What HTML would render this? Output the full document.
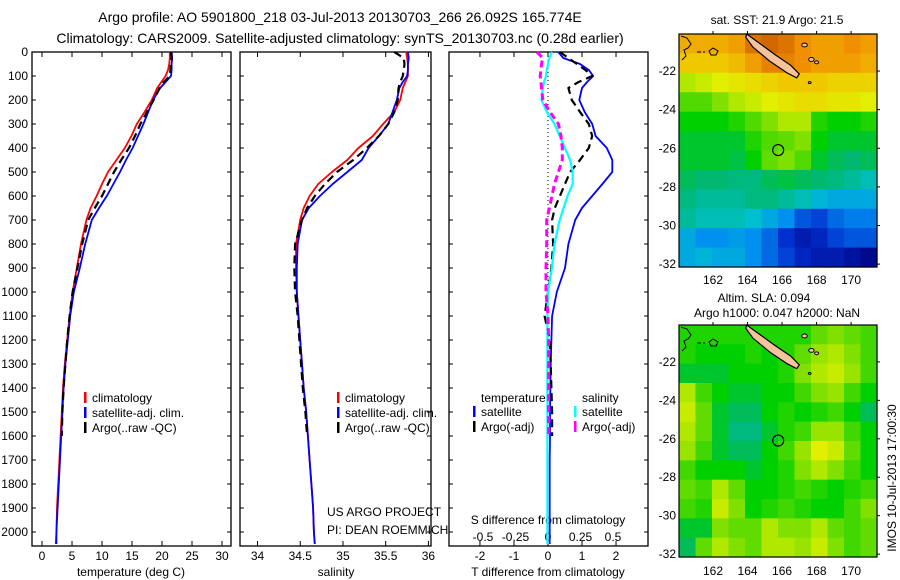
<!DOCTYPE html>
<html><head><meta charset="utf-8">
<style>
html,body{margin:0;padding:0;background:#fff;}
svg{display:block;font-family:"Liberation Sans",sans-serif;}
text{fill:#000;}
</style></head>
<body>
<svg id="fig" width="900" height="580" viewBox="0 0 900 580" xmlns="http://www.w3.org/2000/svg">
<text x="340" y="22" font-size="14" text-anchor="middle">Argo profile: AO 5901800_218 03-Jul-2013 20130703_266 26.092S 165.774E</text>
<text x="340" y="43" font-size="14" text-anchor="middle">Climatology: CARS2009. Satellite-adjusted climatology: synTS_20130703.nc (0.28d earlier)</text>
<text x="131" y="576" font-size="12" text-anchor="middle">temperature (deg C)</text>
<text x="336" y="576" font-size="12" text-anchor="middle">salinity</text>
<text x="548" y="576" font-size="12" text-anchor="middle">T difference from climatology</text>
<text x="548" y="524" font-size="12" text-anchor="middle">S difference from climatology</text>
<text x="327" y="516" font-size="12">US ARGO PROJECT</text>
<text x="327" y="534" font-size="12">PI: DEAN ROEMMICH</text>
<text x="777" y="24" font-size="12" text-anchor="middle">sat. SST: 21.9 Argo: 21.5</text>
<text x="764" y="302" font-size="12" text-anchor="middle">Altim. SLA: 0.094</text>
<text x="777" y="317" font-size="12" text-anchor="middle">Argo h1000: 0.047 h2000: NaN</text>
<text transform="translate(896,478) rotate(-90)" font-size="12" text-anchor="middle">IMOS 10-Jul-2013 17:00:30</text>
</svg>
<script>
// ---------- profile data ----------
const depths = [0,25,50,75,100,125,150,200,250,300,350,400,450,500,550,600,650,700,800,900,1000,1100,1200,1300,1400,1500,1600,1700,1800,1900,2000,2050];
const tempClim = [21.3,21.3,21.2,21.0,20.6,19.9,19.2,18.3,17.1,15.8,14.9,13.8,12.4,11.0,10.0,9.1,8.1,7.4,6.5,5.8,5.1,4.6,4.2,3.8,3.5,3.3,3.1,2.9,2.7,2.5,2.4,2.3];
const tempSat = [21.6,21.7,21.6,21.6,21.5,20.6,19.7,18.5,17.7,16.9,16.0,15.1,14.0,13.0,11.9,10.8,9.5,8.3,7.2,6.3,5.3,4.7,4.3,3.9,3.6,3.4,3.2,3.0,2.8,2.6,2.4,2.4];
const tempArgo = [21.5,21.6,21.5,21.4,21.3,20.3,19.6,18.6,17.5,16.4,15.5,14.5,13.2,12.0,11.0,10.0,8.8,7.7,6.7,5.9,5.1,4.6,4.2,3.9,3.6,3.4,3.3];
const salClim = [35.74,35.75,35.76,35.76,35.76,35.73,35.70,35.67,35.60,35.47,35.35,35.18,35.05,34.87,34.71,34.61,34.54,34.50,34.45,34.45,34.46,34.48,34.50,34.52,34.54,34.57,34.59,34.61,34.63,34.65,34.66,34.67];
const salSat = [35.76,35.77,35.76,35.76,35.75,35.70,35.66,35.63,35.58,35.53,35.42,35.30,35.22,35.05,34.88,34.73,34.60,34.52,34.47,34.46,34.46,34.48,34.50,34.52,34.54,34.57,34.59,34.61,34.63,34.65,34.66,34.67];
const salArgo = [35.60,35.71,35.72,35.71,35.70,35.67,35.65,35.64,35.60,35.53,35.42,35.28,35.12,34.93,34.79,34.67,34.58,34.52,34.44,34.43,34.44,34.47,34.49,34.51,34.53,34.56,34.58];
const tDiffSat = [0.3,0.45,0.94,1.2,1.33,1.15,1.0,0.92,1.08,1.3,1.4,1.73,1.89,1.89,1.6,1.3,1.0,0.8,0.6,0.5,0.26,0.12,0.1,0.08,0.07,0.06,0.06,0.05,0.05,0.05,0.05,0.05];
const tDiffArgo = [0.35,0.6,0.85,1.1,1.3,0.9,0.6,0.7,0.94,1.2,1.3,1.2,0.94,0.65,0.5,0.35,0.2,0.12,0.15,0.1,0.0,-0.1,0.05,0.08,0.1,0.12,0.12];
const sDiffSat = [0.03,0.01,0.0,-0.01,-0.015,-0.03,-0.04,-0.05,-0.01,0.05,0.09,0.13,0.17,0.19,0.19,0.15,0.12,0.09,0.05,0.03,0.0,-0.005,-0.005,-0.005,-0.005,-0.005,-0.005,-0.005,-0.005,-0.005,-0.005,-0.005];
const sDiffArgo = [-0.085,-0.04,-0.05,-0.055,-0.06,-0.055,-0.05,-0.04,0.015,0.08,0.1,0.11,0.11,0.08,0.05,0.03,0.01,-0.01,-0.01,-0.015,-0.015,0.0,0.005,0.005,0.005,0.005,0.005];
const tempTicks = [0,5,10,15,20,25,30];
const salTicks = [34,34.5,35,35.5,36];
const tDiffTicks = [-2,-1,0,1,2];
const sDiffTicks = [-0.5,-0.25,0,0.25,0.5];
const depthTicks = [0,100,200,300,400,500,600,700,800,900,1000,1100,1200,1300,1400,1500,1600,1700,1800,1900,2000];
// ---------- map data (normalized colour values, rows north->south, cols west->east) ----------
const sstGrid = [
[.78,.78,.78,.80,.86,.88,.86,.82,.80,.80,.82,.80],
[.74,.74,.74,.76,.80,.84,.84,.82,.80,.80,.80,.78],
[.62,.64,.66,.68,.70,.72,.74,.74,.74,.72,.72,.72],
[.55,.55,.58,.62,.64,.66,.68,.70,.70,.68,.68,.66],
[.50,.50,.50,.52,.55,.58,.62,.62,.52,.50,.50,.52],
[.48,.48,.48,.48,.52,.55,.56,.58,.50,.48,.48,.48],
[.48,.48,.48,.47,.50,.56,.58,.55,.48,.46,.45,.46],
[.46,.45,.45,.44,.44,.46,.47,.46,.45,.44,.42,.40],
[.44,.42,.42,.42,.44,.44,.42,.40,.36,.34,.34,.34],
[.42,.40,.40,.40,.38,.34,.30,.24,.22,.26,.28,.28],
[.34,.30,.30,.32,.30,.26,.20,.16,.18,.22,.24,.24],
[.34,.36,.34,.34,.30,.26,.22,.18,.16,.16,.14,.12]];
const slaGrid = [
[.52,.52,.52,.52,.52,.52,.52,.52,.56,.58,.56,.54],
[.52,.50,.50,.50,.52,.50,.52,.56,.60,.62,.58,.54],
[.48,.48,.48,.50,.50,.50,.52,.58,.62,.64,.60,.54],
[.62,.54,.50,.48,.48,.50,.50,.54,.58,.60,.54,.50],
[.64,.56,.48,.46,.46,.50,.52,.50,.52,.54,.50,.46],
[.62,.56,.48,.44,.44,.48,.52,.54,.60,.60,.54,.50],
[.60,.54,.48,.46,.46,.50,.54,.60,.66,.64,.56,.50],
[.54,.50,.50,.50,.48,.50,.52,.58,.62,.58,.54,.50],
[.56,.54,.62,.56,.50,.50,.52,.54,.52,.50,.52,.54],
[.54,.52,.64,.58,.50,.52,.54,.52,.50,.50,.54,.58],
[.48,.48,.58,.56,.56,.62,.58,.58,.62,.56,.54,.56],
[.46,.56,.62,.58,.56,.62,.62,.60,.64,.58,.54,.56]];
const lonTicks = [162,164,166,168,170];
const latTicks = [-22,-24,-26,-28,-30,-32];
const floatLon = 165.774, floatLat = -26.092;

const svg = document.getElementById('fig');
const NS = 'http://www.w3.org/2000/svg';
function mk(tag, attrs, parent){
  const e = document.createElementNS(NS, tag);
  for (const k in attrs) e.setAttribute(k, attrs[k]);
  (parent||svg).appendChild(e);
  return e;
}
const TOP = 52, BOT = 546;
const yD = d => TOP + d*0.24;
const panels = [
  {name:'temperature', x0:32, x1:231, xmin:-1.67, xmax:31.5},
  {name:'salinity', x0:240, x1:431, xmin:33.795, xmax:36.03},
  {name:'difference', x0:449, x1:648, xmin:-2.91, xmax:2.94}
];
function sx(p, v){ return p.x0 + (v - p.xmin)/(p.xmax - p.xmin)*(p.x1 - p.x0); }
const sScale = v => 548 + v*130;

function line(points, color, w, dash, name){
  const el = mk('polyline', {points: points.map(p=>p[0].toFixed(1)+','+p[1].toFixed(1)).join(' '), fill:'none', stroke:color, 'stroke-width':w, 'stroke-linejoin':'round'});
  if (dash) el.setAttribute('stroke-dasharray', dash);
  
  
  return el;
}

panels.forEach((p, i) => {
  const r = mk('rect', {x:p.x0, y:TOP, width:p.x1-p.x0, height:BOT-TOP, fill:'none', stroke:'#000', 'stroke-width':1.3});
  
  
  depthTicks.forEach(d => {
    const t1 = mk('line', {x1:p.x0, x2:p.x0+4, y1:yD(d), y2:yD(d), stroke:'#000'});
    
    
    const t2 = mk('line', {x1:p.x1-4, x2:p.x1, y1:yD(d), y2:yD(d), stroke:'#000'});
    
    
  });
});
depthTicks.forEach(d => {
  const t = mk('text', {x:28, y:yD(d)+4, 'font-size':12, 'text-anchor':'end'});
  t.textContent = d;
  
  
});
function xTicks(p, ticks, fmt){
  ticks.forEach(v => {
    const x = sx(p, v);
    const a = mk('line', {x1:x, x2:x, y1:TOP, y2:TOP+5, stroke:'#000'});
    
    
    const b = mk('line', {x1:x, x2:x, y1:BOT-5, y2:BOT, stroke:'#000'});
    
    
    const t = mk('text', {x:x, y:560, 'font-size':12, 'text-anchor':'middle'});
    t.textContent = fmt(v);
    
    
  });
}
xTicks(panels[0], tempTicks, v=>v);
xTicks(panels[1], salTicks, v=>v);
xTicks(panels[2], tDiffTicks, v=>v);
sDiffTicks.forEach(v => {
  const t = mk('text', {x:sScale(v), y:541, 'font-size':12, 'text-anchor':'middle'});
  t.textContent = v;
  
  
});

const z = mk('line', {x1:sx(panels[2],0), x2:sx(panels[2],0), y1:TOP, y2:BOT, stroke:'#000', 'stroke-dasharray':'1,3'});



const P = panels;
line(tempClim.map((v,i)=>[sx(P[0],v), yD(depths[i])]), '#ff0000', 1.8, null, 'temperature-climatology-line');
line(tempSat.map((v,i)=>[sx(P[0],v), yD(depths[i])]), '#0000ff', 1.8, null, 'temperature-satellite-line');
line(tempArgo.map((v,i)=>[sx(P[0],v), yD(depths[i])]), '#000', 2.2, '8,5', 'temperature-argo-line');
line(salClim.map((v,i)=>[sx(P[1],v), yD(depths[i])]), '#ff0000', 1.8, null, 'salinity-climatology-line');
line(salSat.map((v,i)=>[sx(P[1],v), yD(depths[i])]), '#0000ff', 1.8, null, 'salinity-satellite-line');
line(salArgo.map((v,i)=>[sx(P[1],v), yD(depths[i])]), '#000', 2.2, '8,5', 'salinity-argo-line');
line(tDiffSat.map((v,i)=>[sx(P[2],v), yD(depths[i])]), '#0000ff', 1.8, null, 't-diff-satellite-line');
line(tDiffArgo.map((v,i)=>[sx(P[2],v), yD(depths[i])]), '#000', 2.2, '8,5', 't-diff-argo-line');
line(sDiffSat.map((v,i)=>[sScale(v), yD(depths[i])]), '#00ffff', 2.2, null, 's-diff-satellite-line');
line(sDiffArgo.map((v,i)=>[sScale(v), yD(depths[i])]), '#ff00ff', 3, '7,4', 's-diff-argo-line');

function legend(x, y, color, label, name){
  const m = mk('rect', {x:x, y:y-10, width:2.5, height:11, fill:color});
  
  
  const t = mk('text', {x:x+8, y:y, 'font-size':12});
  t.textContent = label;
  
  
}
legend(84, 402, '#ff0000', 'climatology', 'legend-temp-climatology');
legend(84, 417, '#0000ff', 'satellite-adj. clim.', 'legend-temp-satellite');
legend(84, 432, '#000', 'Argo(..raw -QC)', 'legend-temp-argo');
legend(337, 402, '#ff0000', 'climatology', 'legend-sal-climatology');
legend(337, 417, '#0000ff', 'satellite-adj. clim.', 'legend-sal-satellite');
legend(337, 432, '#000', 'Argo(..raw -QC)', 'legend-sal-argo');
legend(473, 416, '#0000ff', 'satellite', 'legend-tdiff-satellite');
legend(473, 431, '#000', 'Argo(-adj)', 'legend-tdiff-argo');
legend(574, 416, '#00ffff', 'satellite', 'legend-sdiff-satellite');
legend(574, 431, '#ff00ff', 'Argo(-adj)', 'legend-sdiff-argo');
const lt = mk('text', {x:481, y:402, 'font-size':12}); lt.textContent = 'temperature';


const ls = mk('text', {x:582, y:402, 'font-size':12}); ls.textContent = 'salinity';



// ---------- maps ----------
const stops = [[0.1,[0,0,127]],[0.2,[0,48,208]],[0.3,[0,144,240]],[0.38,[0,192,208]],[0.45,[0,184,112]],[0.5,[0,208,0]],[0.58,[128,224,0]],[0.66,[224,240,0]],[0.74,[240,200,0]],[0.82,[240,144,0]],[0.9,[200,88,0]]];
function cmap(v){
  if (v <= stops[0][0]) return 'rgb('+stops[0][1]+')';
  for (let i=1;i<stops.length;i++){
    if (v <= stops[i][0]){
      const f = (v-stops[i-1][0])/(stops[i][0]-stops[i-1][0]);
      const c = stops[i-1][1].map((a,k)=>Math.round(a+(stops[i][1][k]-a)*f));
      return 'rgb('+c+')';
    }
  }
  return 'rgb('+stops[stops.length-1][1]+')';
}
function drawMap(grid, top, bottom, prefix, labelY){
  const x0=679, x1=877, lonMin=160.03, lonMax=171.5;
  const latTop=-20.08, latBot=-32.15;
  const mx = lon => x0 + (lon-lonMin)/(lonMax-lonMin)*(x1-x0);
  const my = lat => top + (latTop-lat)/(latTop-latBot)*(bottom-top);
  const rows = grid.length, cols = grid[0].length;
  const cw = (x1-x0)/cols, ch = (bottom-top)/rows;
  grid.forEach((row, r) => row.forEach((v, c) => {
    const cell = mk('rect', {x:(x0+c*cw).toFixed(2), y:(top+r*ch).toFixed(2), width:(cw+0.6).toFixed(2), height:(ch+0.6).toFixed(2), fill:cmap(v)});
    
    
  }));
  const isl = [[163.95,-20.08],[164.6,-20.5],[165.6,-21.15],[166.5,-21.7],[167.0,-22.15],[166.85,-22.35],[166.3,-22.1],[165.3,-21.5],[164.3,-20.75],[163.9,-20.25]];
  const island = mk('polygon', {points: isl.map(p=>mx(p[0]).toFixed(1)+','+my(p[1]).toFixed(1)).join(' '), fill:'#f5c49c', stroke:'#000', 'stroke-width':1.2});
  
  
  [[167.3,-20.65,0.16],[167.7,-21.4,0.16],[168.0,-21.55,0.12],[167.6,-22.6,0.08]].forEach(s => {
    const e = mk('ellipse', {cx:mx(s[0]), cy:my(s[1]), rx:s[2]*17, ry:s[2]*12, fill:'#f5c49c', stroke:'#000'});
    
    
  });
  const reef = mk('path', {d:'M'+(x0+2)+','+(top+2)+' l6,2 l4,6 l-3,4 l-4,2 l2,6 l-4,4 M'+(x0+30)+','+(top+17)+' l4,-3 l5,3 l-2,4 l-5,0 z M'+(x0+18)+','+(top+18)+' l4,0 M'+(x0+24)+','+(top+18)+' l2,0', fill:'none', stroke:'#000', 'stroke-width':1});
  
  
  const fr = mk('rect', {x:x0, y:top, width:x1-x0, height:bottom-top, fill:'none', stroke:'#000', 'stroke-width':1.2});
  
  
  const circ = mk('circle', {cx:mx(floatLon), cy:my(floatLat), r:5.5, fill:'none', stroke:'#000', 'stroke-width':1.2});
  
  
  lonTicks.forEach(l => {
    const tk = mk('line', {x1:mx(l), x2:mx(l), y1:top-3, y2:top, stroke:'#000'});
    
    
    const t = mk('text', {x:mx(l), y:labelY, 'font-size':12, 'text-anchor':'middle'});
    t.textContent = l;
    
    
  });
  latTicks.forEach(l => {
    const tk = mk('line', {x1:x1, x2:x1+3, y1:my(l), y2:my(l), stroke:'#000'});
    
    
    const t = mk('text', {x:676, y:my(l)+4, 'font-size':12, 'text-anchor':'end'});
    t.textContent = l;
    
    
  });
}
drawMap(sstGrid, 34, 267, 'sst-map', 284);
drawMap(slaGrid, 325, 557, 'sla-map', 575);
</script>
</body></html>
